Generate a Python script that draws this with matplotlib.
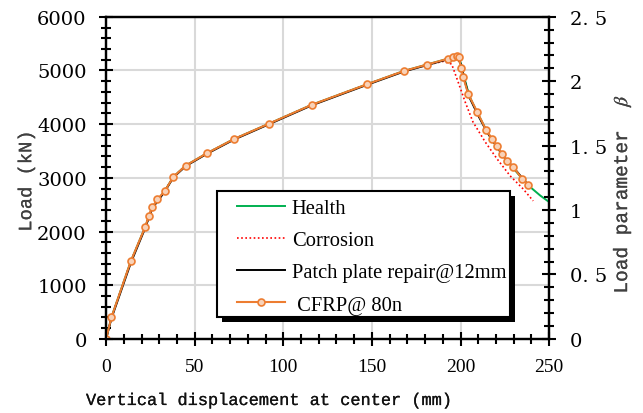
import matplotlib
matplotlib.use("Agg")
import matplotlib.pyplot as plt
import matplotlib.patheffects as pe
from matplotlib.patches import Rectangle
from matplotlib.ticker import MultipleLocator

# load-displacement curves (displacement in mm, load in kN)
health_x = [0, 3, 14, 22, 26, 33, 38, 45, 57, 72, 92, 116, 147, 168, 181, 193, 198, 200,
            202, 205, 210, 215, 220, 225, 230, 235, 240, 245, 250]
health_y = [0, 400, 1450, 2080, 2450, 2750, 3020, 3230, 3460, 3720, 4010, 4360, 4740, 4990,
            5110, 5220, 5260, 5150, 4880, 4520, 4180, 3860, 3600, 3370, 3170, 2980, 2810, 2670, 2550]

corrosion_x = [0, 3, 14, 22, 26, 33, 38, 45, 57, 72, 92, 116, 147, 168, 181, 190, 195,
               198.6, 202.6, 207, 213.9, 220.6, 228, 235.3, 241]
corrosion_y = [0, 400, 1450, 2080, 2450, 2750, 3020, 3230, 3460, 3720, 4010, 4360, 4740, 4990,
               5100, 5170, 5120, 4790, 4416, 4043, 3670, 3354, 3037, 2795, 2571]

patch_x = [0, 3, 14, 22, 26, 33, 38, 45, 57, 72, 92, 116, 147, 168, 181, 193, 198, 200.5,
           202, 205, 210, 215, 220, 225, 230, 235, 238]
patch_y = [0, 380, 1420, 2060, 2430, 2740, 3010, 3220, 3450, 3710, 4000, 4350, 4730, 4980,
           5100, 5210, 5250, 5100, 4850, 4500, 4160, 3850, 3600, 3370, 3190, 2990, 2870]

cfrp_x = [0, 3, 14, 22, 24, 26, 29, 33, 38, 45, 57, 72, 92, 116, 147, 168, 181, 193, 196,
          198, 199, 200.3, 201.5, 204.3, 209.4, 214.4, 217.8, 220.6, 223.5, 226.3, 229.7,
          234.8, 238.1]
cfrp_y = [0, 400, 1450, 2080, 2280, 2450, 2600, 2750, 3020, 3230, 3460, 3720, 4010, 4360,
          4740, 4990, 5110, 5220, 5260, 5275, 5250, 5050, 4880, 4565, 4230, 3894, 3727, 3596,
          3447, 3317, 3205, 2981, 2869]

beta_ticks = [0, 0.5, 1, 1.5, 2, 2.5]
beta_labels = ['0', '0. 5', '1', '1. 5', '2', '2. 5']

plt.rcParams['font.family'] = 'Liberation Serif'
plt.rcParams['mathtext.fontset'] = 'stix'

fig = plt.figure(figsize=(6.43, 4.14), dpi=100)
ax = fig.add_axes([0.165, 0.179, 0.689, 0.778])

ax.plot(health_x, health_y, color='#00b050', lw=1.4, label='Health', zorder=3)
ax.plot(corrosion_x, corrosion_y, color='#ff0000', lw=1.2, ls=(0, (1, 1.5)), label='Corrosion', zorder=3)
ax.plot(patch_x, patch_y, color='black', lw=1.4, label='Patch plate repair@12mm', zorder=4)
ax.plot(cfrp_x, cfrp_y, color='#ed7d31', lw=1.5, marker='o', ms=5, mfc='#f8d2b8',
        mec='#ed7d31', mew=1.2, label=' CFRP@ 80n', zorder=5)

ax.set_xlim(0, 250)
ax.set_ylim(0, 6000)
ax.xaxis.set_major_locator(MultipleLocator(50))
ax.xaxis.set_minor_locator(MultipleLocator(10))
ax.yaxis.set_major_locator(MultipleLocator(1000))
ax.yaxis.set_minor_locator(MultipleLocator(200))
ax.grid(True, which='major', color='#d9d9d9', lw=1.5, zorder=0)
ax.set_axisbelow(True)

ax.tick_params(which='both', direction='inout', width=1.5, top=False, right=False)
ax.tick_params(which='major', length=10)
ax.tick_params(which='minor', length=7)
ax.tick_params(axis='x', labelsize=14, pad=9)
ax.tick_params(axis='y', labelsize=14, pad=9)
for t in ax.get_yticklabels():
    t.set_family('DejaVu Serif')
for s in ax.spines.values():
    s.set_linewidth(1.6)

# monospaced axis titles, stroked a touch so they are not too faint
xl = ax.set_xlabel('Vertical displacement at center (mm)', family='Liberation Mono',
                   fontsize=12.2, va='top', color='#111111')
xl.set_path_effects([pe.withStroke(linewidth=0.15, foreground='#111111')])
ax.xaxis.set_label_coords(0.366, -0.168)
yl = ax.set_ylabel('Load (kN)', family='Liberation Mono', fontsize=13.5, color='#404040')
yl.set_path_effects([pe.withStroke(linewidth=0.15, foreground='#404040')])
ax.yaxis.set_label_coords(-0.16, 0.49)

ax2 = ax.twinx()
ax2.set_ylim(0, 2.5)
ax2.yaxis.set_minor_locator(MultipleLocator(0.1))
ax2.set_yticks(beta_ticks)
ax2.set_yticklabels(beta_labels, family='DejaVu Serif')
ax2.tick_params(which='both', direction='inout', width=1.5, labelsize=14, pad=10)
ax2.tick_params(which='major', length=10)
ax2.tick_params(which='minor', length=7)
yl2 = ax2.set_ylabel(r'Load parameter  $\beta$', family='Liberation Mono', fontsize=14,
                     color='#404040')
yl2.set_path_effects([pe.withStroke(linewidth=0.15, foreground='#404040')])
ax2.yaxis.set_label_coords(1.14, 0.45)
for s in ax2.spines.values():
    s.set_linewidth(1.6)

# legend box with a solid drop shadow
bx, by, bw, bh = 0.250, 0.068, 0.661, 0.391
dx, dy = 5 / 443, 5 / 322
ax2.add_patch(Rectangle((bx + dx, by - dy), bw, bh, transform=ax.transAxes,
                        facecolor='black', edgecolor='none', zorder=8, clip_on=False))
ax2.add_patch(Rectangle((bx, by), bw, bh, transform=ax.transAxes,
                        facecolor='white', edgecolor='black', lw=1.5, zorder=9, clip_on=False))

handles, labels = ax.get_legend_handles_labels()
leg = ax2.legend(handles, labels, loc='upper left', bbox_to_anchor=(0.296, 0.435),
                 bbox_transform=ax.transAxes, fontsize=14.8, handlelength=2.3,
                 handletextpad=0.35, labelspacing=0.62, borderpad=0, borderaxespad=0,
                 frameon=False)
leg.set_zorder(10)

fig.savefig('out.png', dpi=100)
